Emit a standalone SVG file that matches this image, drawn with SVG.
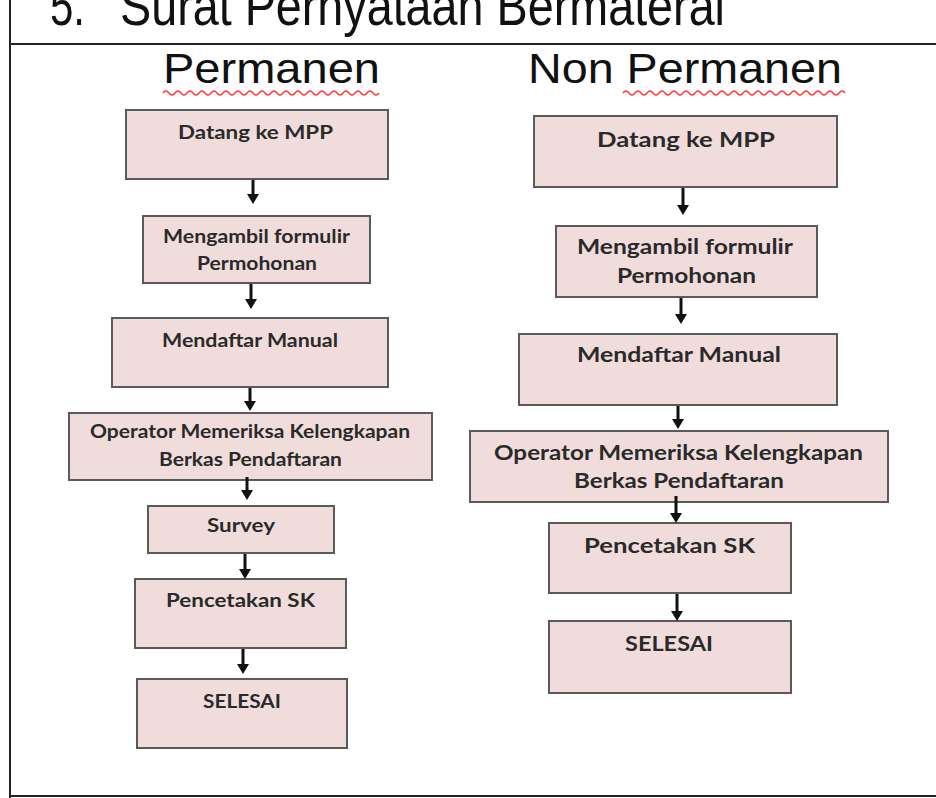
<svg xmlns="http://www.w3.org/2000/svg" width="936" height="798" viewBox="0 0 936 798">
  <defs>
    <style>
      .frame { stroke: #222; stroke-width: 2; fill: none; }
      .title { font-family: "Liberation Sans", Arial, sans-serif; fill: #111; }
      .box { fill: #f1dcdc; stroke: #5a5a5a; stroke-width: 2; }
      .lt { font-family: Lato, "Open Sans", sans-serif; font-weight: bold; font-size: 18px; fill: #2a2a2a; text-anchor: middle; }
      .rt { font-family: Lato, "Open Sans", sans-serif; font-weight: bold; font-size: 21px; fill: #2a2a2a; text-anchor: middle; }
      .arrow { stroke: #111; stroke-width: 3; fill: none; marker-end: url(#ah); }
      .squig { stroke: #ff3b3b; stroke-width: 1.5; fill: none; }
    </style>
    <marker id="ah" viewBox="0 0 10 12" refX="0" refY="6" markerWidth="10" markerHeight="12" markerUnits="userSpaceOnUse" orient="auto">
      <path d="M0,0 L10,6 L0,12 z" fill="#111"/>
    </marker>
  </defs>

  <g id="frame">
    <line class="frame" x1="10" y1="0" x2="10" y2="798"/>
    <line class="frame" x1="9" y1="44" x2="936" y2="44"/>
    <line class="frame" x1="9" y1="796" x2="936" y2="796"/>
  </g>

  <g id="title">
    <text class="title" x="50" y="25" font-size="56" textLength="35" lengthAdjust="spacingAndGlyphs">5.</text>
    <text class="title" x="120" y="25" font-size="56" textLength="605" lengthAdjust="spacingAndGlyphs">Surat Pernyataan Bermaterai</text>
  </g>

  <g id="headings">
    <text class="title" x="163" y="83" font-size="42" textLength="217" lengthAdjust="spacingAndGlyphs">Permanen</text>
    <text class="title" x="528" y="83" font-size="42" textLength="314" lengthAdjust="spacingAndGlyphs">Non Permanen</text>
    <path class="squig" d="M163,93 q3,-4 6,0 t6,0 t6,0 t6,0 t6,0 t6,0 t6,0 t6,0 t6,0 t6,0 t6,0 t6,0 t6,0 t6,0 t6,0 t6,0 t6,0 t6,0 t6,0 t6,0 t6,0 t6,0 t6,0 t6,0 t6,0 t6,0 t6,0 t6,0 t6,0 t6,0 t6,0 t6,0 t6,0 t6,0 t6,0 t6,0"/>
    <path class="squig" d="M623,93 q3,-4 6,0 t6,0 t6,0 t6,0 t6,0 t6,0 t6,0 t6,0 t6,0 t6,0 t6,0 t6,0 t6,0 t6,0 t6,0 t6,0 t6,0 t6,0 t6,0 t6,0 t6,0 t6,0 t6,0 t6,0 t6,0 t6,0 t6,0 t6,0 t6,0 t6,0 t6,0 t6,0 t6,0 t6,0 t6,0 t6,0 t6,0"/>
  </g>

  <!-- Left column: Permanen -->
  <g id="p1">
    <rect class="box" x="126" y="110" width="262" height="69"/>
    <text class="lt" x="255.5" y="139" textLength="155" lengthAdjust="spacingAndGlyphs">Datang ke MPP</text>
  </g>
  <g id="p2">
    <rect class="box" x="143" y="216" width="227" height="67"/>
    <text class="lt" x="256.5" y="243" textLength="187" lengthAdjust="spacingAndGlyphs">Mengambil formulir</text>
    <text class="lt" x="257" y="270" textLength="120" lengthAdjust="spacingAndGlyphs">Permohonan</text>
  </g>
  <g id="p3">
    <rect class="box" x="112" y="318" width="276" height="69"/>
    <text class="lt" x="250" y="347" textLength="176" lengthAdjust="spacingAndGlyphs">Mendaftar Manual</text>
  </g>
  <g id="p4">
    <rect class="box" x="69" y="413" width="363" height="67"/>
    <text class="lt" x="250" y="438" textLength="320" lengthAdjust="spacingAndGlyphs">Operator Memeriksa Kelengkapan</text>
    <text class="lt" x="250.5" y="466" textLength="183" lengthAdjust="spacingAndGlyphs">Berkas Pendaftaran</text>
  </g>
  <g id="p5">
    <rect class="box" x="148" y="506" width="186" height="47"/>
    <text class="lt" x="241" y="532" textLength="68" lengthAdjust="spacingAndGlyphs">Survey</text>
  </g>
  <g id="p6">
    <rect class="box" x="135" y="579" width="211" height="69"/>
    <text class="lt" x="240.5" y="607" textLength="149" lengthAdjust="spacingAndGlyphs">Pencetakan SK</text>
  </g>
  <g id="p7">
    <rect class="box" x="137" y="679" width="210" height="69"/>
    <text class="lt" x="242" y="708" textLength="78" lengthAdjust="spacingAndGlyphs">SELESAI</text>
  </g>

  <!-- Right column: Non Permanen -->
  <g id="n1">
    <rect class="box" x="534" y="116" width="303" height="71"/>
    <text class="rt" x="686" y="147" textLength="178" lengthAdjust="spacingAndGlyphs">Datang ke MPP</text>
  </g>
  <g id="n2">
    <rect class="box" x="556" y="226" width="261" height="71"/>
    <text class="rt" x="685" y="254" textLength="216" lengthAdjust="spacingAndGlyphs">Mengambil formulir</text>
    <text class="rt" x="686.5" y="283" textLength="139" lengthAdjust="spacingAndGlyphs">Permohonan</text>
  </g>
  <g id="n3">
    <rect class="box" x="519" y="334" width="318" height="71"/>
    <text class="rt" x="679" y="362" textLength="204" lengthAdjust="spacingAndGlyphs">Mendaftar Manual</text>
  </g>
  <g id="n4">
    <rect class="box" x="470" y="431" width="418" height="71"/>
    <text class="rt" x="678.5" y="460" textLength="369" lengthAdjust="spacingAndGlyphs">Operator Memeriksa Kelengkapan</text>
    <text class="rt" x="679" y="488" textLength="210" lengthAdjust="spacingAndGlyphs">Berkas Pendaftaran</text>
  </g>
  <g id="n5">
    <rect class="box" x="549" y="523" width="242" height="70"/>
    <text class="rt" x="669.5" y="553" textLength="171" lengthAdjust="spacingAndGlyphs">Pencetakan SK</text>
  </g>
  <g id="n6">
    <rect class="box" x="549" y="621" width="242" height="72"/>
    <text class="rt" x="669" y="651" textLength="88" lengthAdjust="spacingAndGlyphs">SELESAI</text>
  </g>

  <g id="connectors">
    <line class="arrow" x1="253" y1="180" x2="253" y2="194"/>
    <line class="arrow" x1="251" y1="284" x2="251" y2="299"/>
    <line class="arrow" x1="250" y1="388" x2="250" y2="401"/>
    <line class="arrow" x1="247" y1="477" x2="247" y2="490"/>
    <line class="arrow" x1="245" y1="554" x2="245" y2="569"/>
    <line class="arrow" x1="243" y1="649" x2="243" y2="664"/>
    <line class="arrow" x1="683" y1="188" x2="683" y2="205"/>
    <line class="arrow" x1="681" y1="298" x2="681" y2="314"/>
    <line class="arrow" x1="678" y1="406" x2="678" y2="419"/>
    <line class="arrow" x1="676" y1="496" x2="676" y2="513"/>
    <line class="arrow" x1="677" y1="594" x2="677" y2="611"/>
  </g>
</svg>
